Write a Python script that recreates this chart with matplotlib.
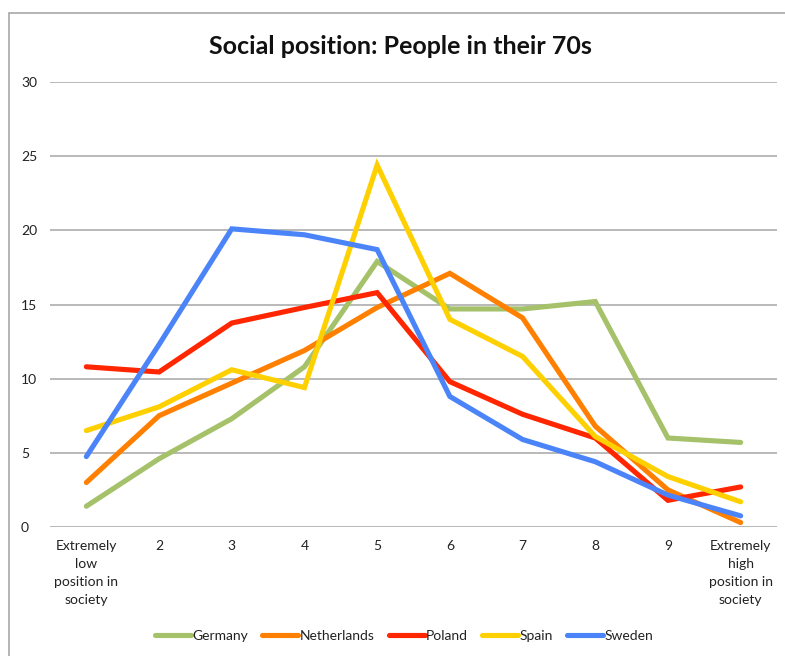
import matplotlib
matplotlib.use("Agg")
import matplotlib.pyplot as plt
from matplotlib.patches import Rectangle

categories = ["Extremely\nlow\nposition in\nsociety", "2", "3", "4", "5", "6", "7", "8", "9",
              "Extremely\nhigh\nposition in\nsociety"]
germany = [1.4, 4.6, 7.3, 10.8, 17.9, 14.7, 14.7, 15.2, 6.0, 5.7]
netherlands = [3.0, 7.5, 9.7, 11.9, 14.8, 17.1, 14.1, 6.8, 2.5, 0.3]
poland = [10.8, 10.45, 13.75, 14.8, 15.8, 9.8, 7.6, 6.0, 1.8, 2.7]
spain = [6.5, 8.1, 10.6, 9.4, 24.4, 14.0, 11.5, 6.1, 3.4, 1.7]
sweden = [4.75, 12.3, 20.1, 19.7, 18.7, 8.8, 5.9, 4.4, 2.15, 0.75]
series = {"Germany": germany, "Netherlands": netherlands, "Poland": poland,
          "Spain": spain, "Sweden": sweden}
colors = {"Germany": "#A5C26A", "Netherlands": "#FF8000", "Poland": "#FF2600",
          "Spain": "#FFD000", "Sweden": "#4A84F8"}
yticks = [0, 5, 10, 15, 20, 25, 30]

plt.rcParams['font.family'] = ['Lato', 'DejaVu Sans']
W, H = 785, 656
fig = plt.figure(figsize=(W / 100, H / 100), dpi=100)
ax = fig.add_axes([50 / W, 1 - 527 / H, (777 - 50) / W, (527 - 82) / H])

x = list(range(len(categories)))
for name, vals in series.items():
    ax.plot(x, vals, color=colors[name], lw=3.7, label=name, solid_joinstyle='miter',
            solid_capstyle='round')

ax.set_xlim(-0.5, len(categories) - 0.5)
ax.set_ylim(0, 30)
ax.set_yticks(yticks)
ax.set_yticklabels([str(v) for v in yticks], fontsize=10, color='#222222')
ax.set_xticks(x)
ax.set_xticklabels(categories, fontsize=10, color='#222222', linespacing=1.6, va='top')
ax.tick_params(axis='x', length=0, pad=9)
ax.tick_params(axis='y', length=0, pad=0)
for lbl in ax.get_yticklabels():
    lbl.set_horizontalalignment('left')
    lbl.set_x(-0.04)
for s in ax.spines.values():
    s.set_visible(False)
ax.grid(axis='y', color='#B3B3B3', lw=1.3)
ax.set_axisbelow(True)

fig.text(400 / W, 1 - 47 / H, "Social position: People in their 70s", ha='center', va='center',
         fontsize=18, fontweight='bold', color='#111111')

fig.patches.append(Rectangle((9 / W, -0.1), 1.0, (H - 13) / H + 0.1, transform=fig.transFigure,
                             fill=False, edgecolor='#A8A8A8', lw=1.2, clip_on=False))

leg = fig.legend(loc='center', bbox_to_anchor=(404 / W, 1 - 636 / H), ncol=5, frameon=False,
                 fontsize=10, handlelength=2.6, handletextpad=0.1, columnspacing=1.0)
for t in leg.get_texts():
    t.set_color('#222222')

fig.savefig("out.png", dpi=100)
